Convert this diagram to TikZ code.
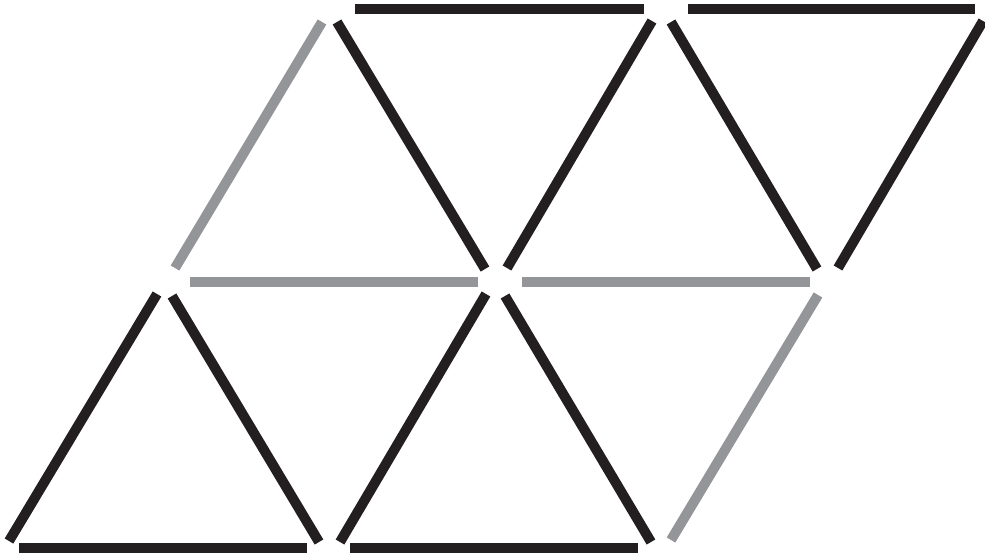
\documentclass[tikz,border=0pt]{standalone}
\definecolor{stickblack}{HTML}{231F20}
\definecolor{stickgrey}{HTML}{939598}
\begin{document}
\begin{tikzpicture}[x=1pt,y=-1pt,
  blackstick/.style={draw=stickblack,line width=10pt,line cap=butt},
  greystick/.style={draw=stickgrey,line width=10pt,line cap=butt}]
\useasboundingbox (0,0) rectangle (985,559);
% horizontals
\draw[blackstick] (19,548) -- (307,548);
\draw[blackstick] (350,548) -- (638,548);
\draw[greystick] (190,282) -- (478,282);
\draw[greystick] (522,282) -- (810,282);
\draw[blackstick] (355,9) -- (644,9);
\draw[blackstick] (688,9) -- (975,9);
% diagonals
\draw[blackstick] (9,541) -- (157,294);
\draw[blackstick] (172,296) -- (319,542);
\draw[blackstick] (340,542) -- (486,294);
\draw[blackstick] (505,296) -- (651,542);
\draw[blackstick] (485,269) -- (337,22);
\draw[blackstick] (507,268) -- (652,21);
\draw[blackstick] (671,22) -- (817,269);
\draw[blackstick] (838,268) -- (983,21);
\draw[greystick] (175,268) -- (322,22);
\draw[greystick] (818,295) -- (671,540);
\end{tikzpicture}
\end{document}
